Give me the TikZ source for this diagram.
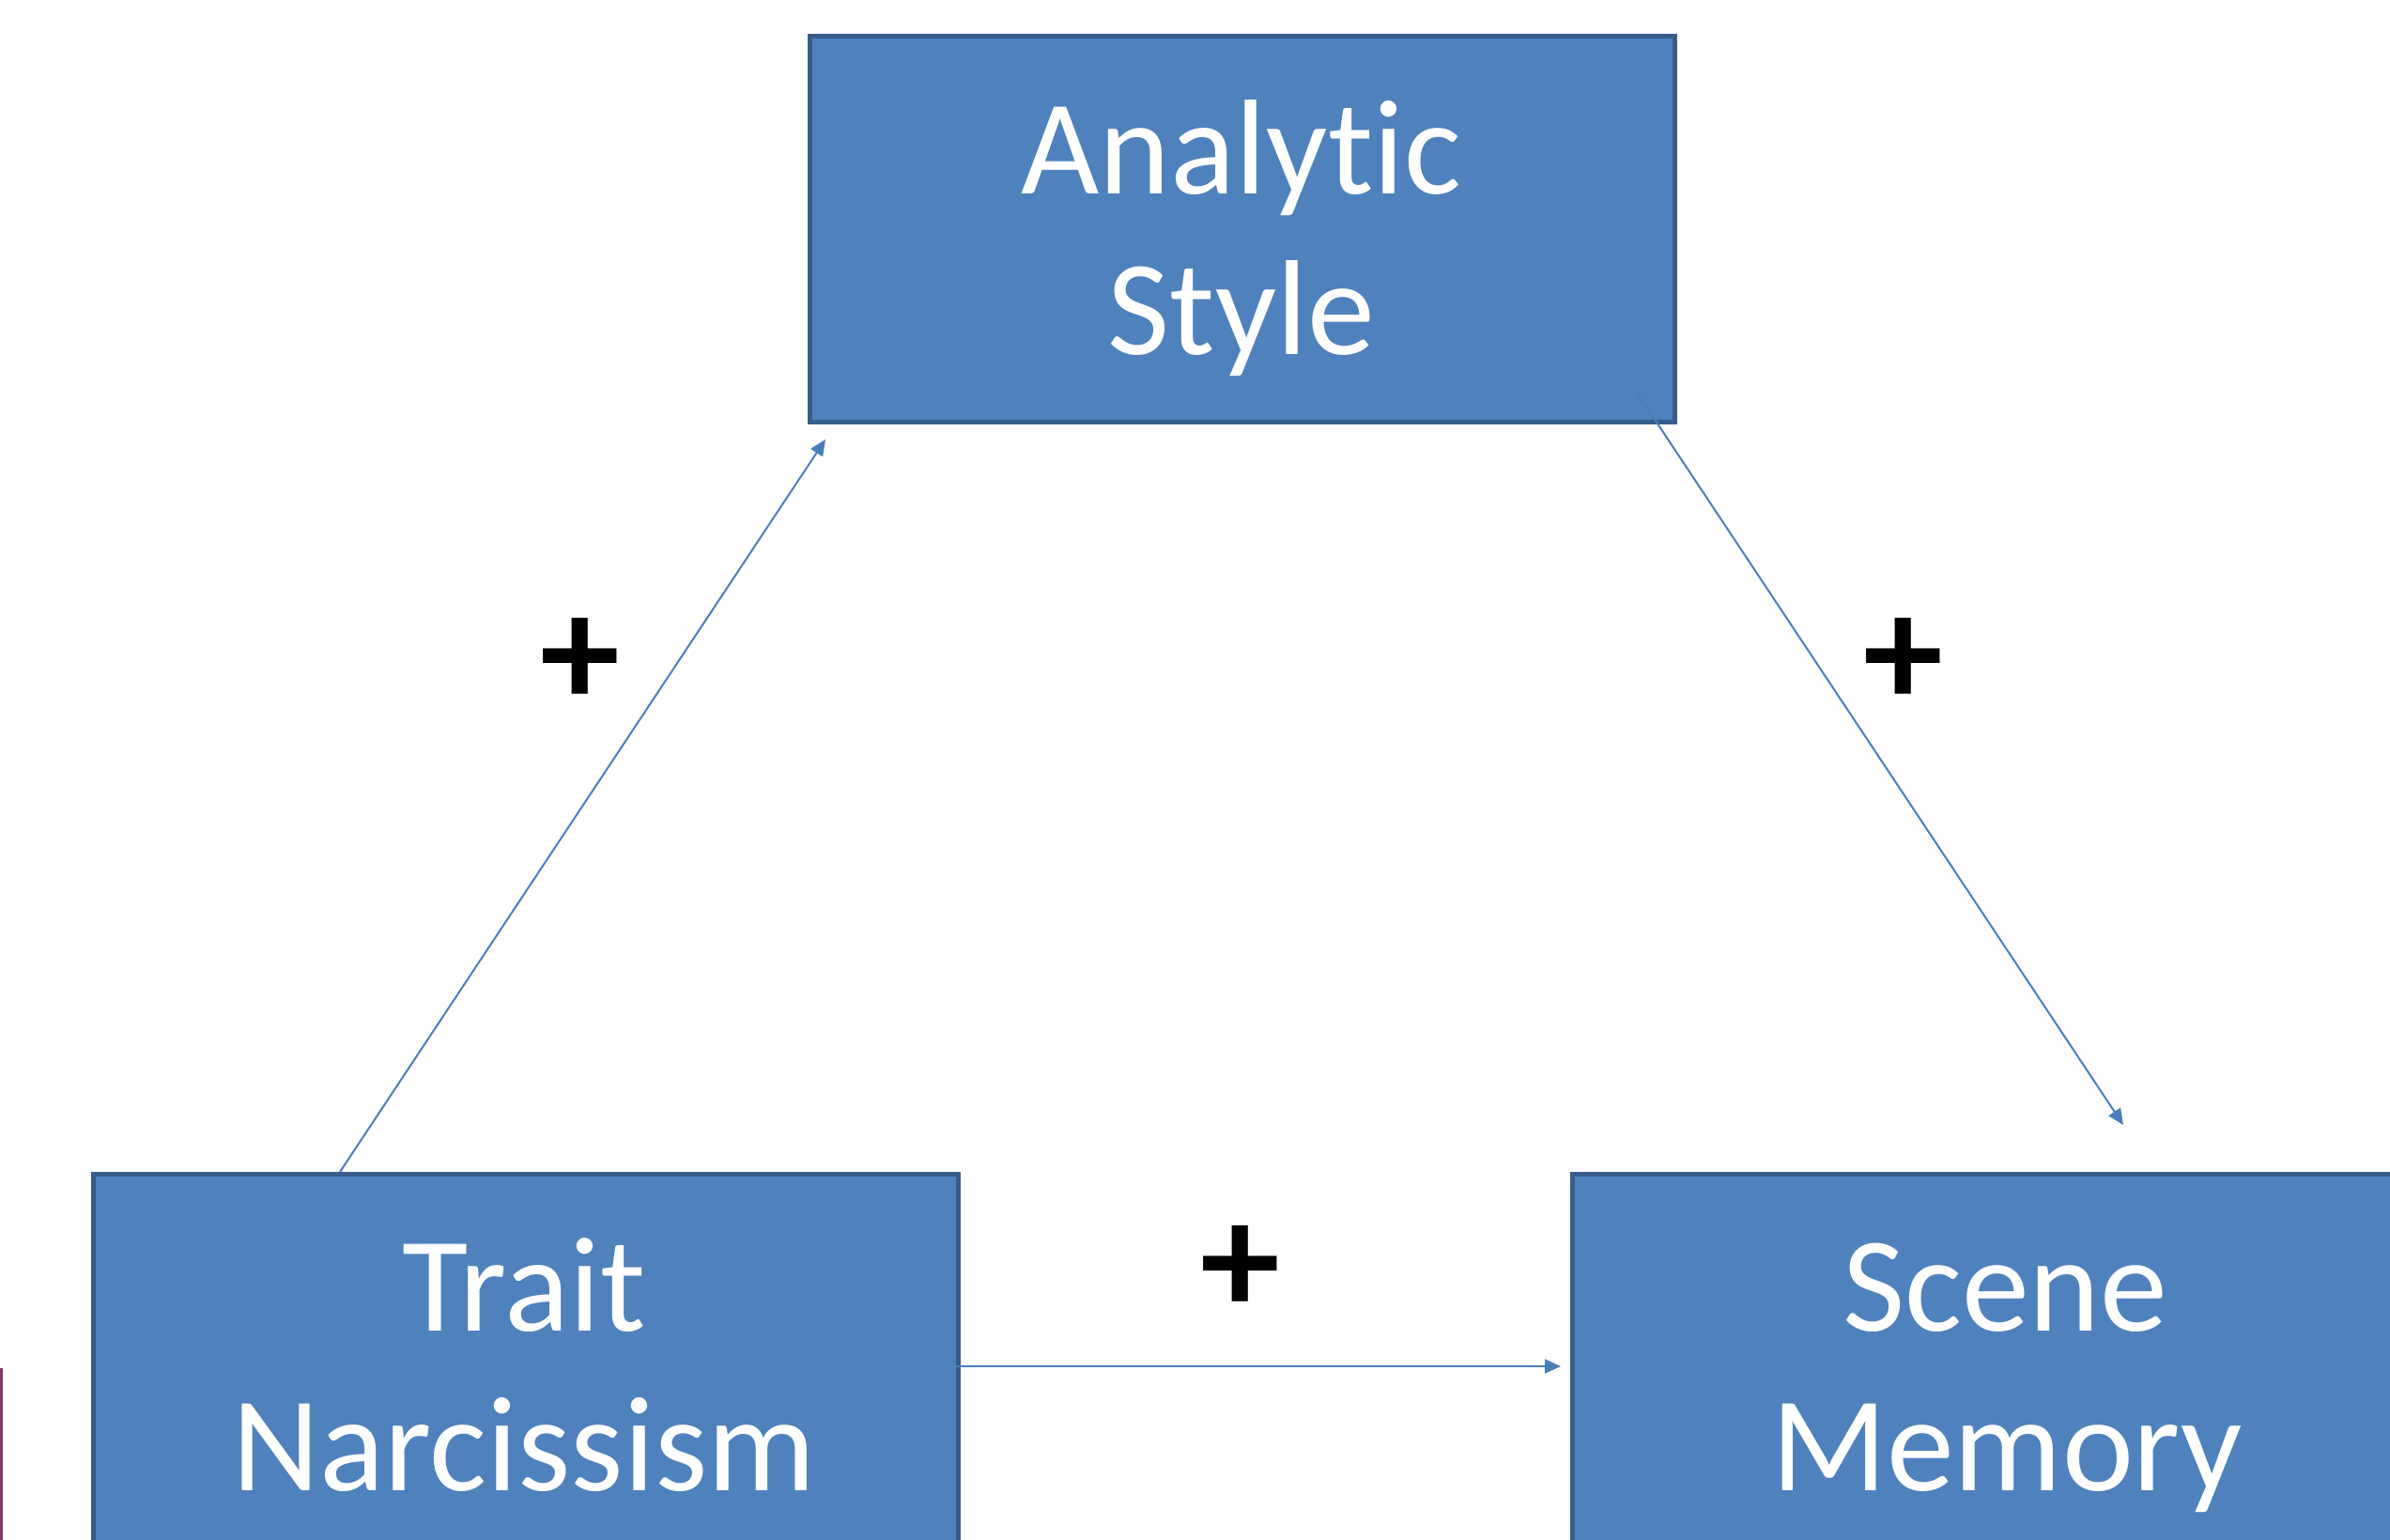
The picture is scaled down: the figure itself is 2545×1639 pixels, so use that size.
\documentclass[tikz,border=0pt]{standalone}
\usepackage{fontspec}
\setmainfont{Carlito}[Ligatures={NoCommon}]
\usetikzlibrary{arrows.meta}
\definecolor{boxfill}{HTML}{4F81BD}
\definecolor{boxline}{HTML}{385D8A}
\definecolor{arrowcol}{HTML}{4A7EBB}
\definecolor{edgepurple}{HTML}{7E3B6B}
\tikzset{
  box/.style={draw=boxline, fill=boxfill, line width=5pt, rectangle, anchor=north west, inner sep=0pt},
  lbl/.style={text=white, font=\fontsize{144}{170}\selectfont, anchor=base, inner sep=0pt},
  sign/.style={text=black, font=\bfseries\fontsize{170}{200}\selectfont, inner sep=0pt},
  conn/.style={draw=arrowcol, line width=2pt, -{Triangle[length=17pt,width=15pt]}}
}
\begin{document}
\begin{tikzpicture}[x=1pt,y=1pt]
\useasboundingbox (0,0) rectangle (2545,-1639);
\clip (0,0) rectangle (2545,-1639);
% partial purple shape at left edge
\fill[edgepurple] (0,-1457) rectangle (3,-1650);
% boxes
\node[box, minimum width=921pt, minimum height=411pt] (an) at (860,-36) {};
\node[box, minimum width=921pt, minimum height=600pt] (tn) at (97,-1248) {};
\node[box, minimum width=1000pt, minimum height=600pt] (sm) at (1672,-1248) {};
% labels
\node[lbl] (an1) at (1322,-206) {Analytic};
\node[lbl] (an2) at (1322,-377) {Style};
\node[lbl] (tn1) at (558,-1417) {Trait};
\node[lbl] (tn2) at (558,-1587) {Narcissism};
\node[lbl] (sm1) at (2135,-1417) {Scene};
\node[lbl] (sm2) at (2137,-1587) {Memory};
% connector ends
\coordinate (c1s) at (362,-1248);
\coordinate (c1e) at (879,-468);
\coordinate (c2s) at (1743,-418);
\coordinate (c2e) at (2261,-1198);
\coordinate (c3s) at (1018,-1455);
\coordinate (c3e) at (1662,-1455);
\draw[conn] (c1s) -- (c1e);
\draw[conn] (c2s) -- (c2e);
\draw[conn] (c3s) -- (c3e);
% signs
\node[sign] (p1) at (618,-705) {+};
\node[sign] (p2) at (2027,-705) {+};
\node[sign] (p3) at (1321,-1352) {+};
\end{tikzpicture}
\end{document}
